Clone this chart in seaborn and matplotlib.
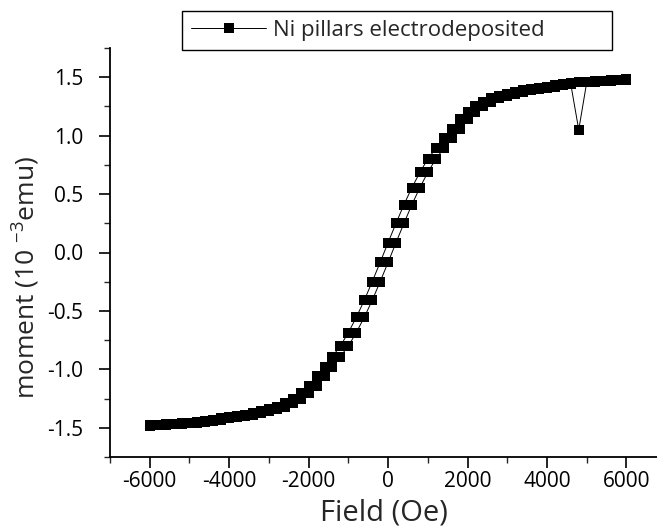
import pandas as pd
import matplotlib.pyplot as plt
import seaborn as sns

# field sweeps (Oe) and measured moment (10^-3 emu)
field_down = [6000, 5800, 5600, 5400, 5200, 5000, 4800, 4600, 4400, 4200,
              4000, 3800, 3600, 3400, 3200, 3000, 2800, 2600, 2400, 2200,
              2000, 1800, 1600, 1400, 1200, 1000, 800, 600, 400, 200,
              0, -200, -400, -600, -800, -1000, -1200, -1400, -1600, -1800,
              -2000, -2200, -2400, -2600, -2800, -3000, -3200, -3400, -3600, -3800,
              -4000, -4200, -4400, -4600, -4800, -5000, -5200, -5400, -5600, -5800,
              -6000]
moment_down = [1.485, 1.48, 1.475, 1.47, 1.465, 1.46, 1.455, 1.45, 1.44, 1.43,
               1.42, 1.41, 1.40, 1.39, 1.375, 1.36, 1.34, 1.32, 1.29, 1.25,
               1.20, 1.14, 1.06, 0.98, 0.89, 0.80, 0.685, 0.555, 0.41, 0.25,
               0.085, -0.085, -0.25, -0.41, -0.555, -0.685, -0.80, -0.89, -0.98, -1.06,
               -1.14, -1.20, -1.25, -1.29, -1.32, -1.34, -1.36, -1.375, -1.39, -1.40,
               -1.41, -1.42, -1.43, -1.44, -1.45, -1.455, -1.46, -1.465, -1.47, -1.475,
               -1.48]

field_up = [-6000, -5800, -5600, -5400, -5200, -5000, -4800, -4600, -4400, -4200,
            -4000, -3800, -3600, -3400, -3200, -3000, -2800, -2600, -2400, -2200,
            -2000, -1800, -1600, -1400, -1200, -1000, -800, -600, -400, -200,
            0, 200, 400, 600, 800, 1000, 1200, 1400, 1600, 1800,
            2000, 2200, 2400, 2600, 2800, 3000, 3200, 3400, 3600, 3800,
            4000, 4200, 4400, 4600, 4800, 5000, 5200, 5400, 5600, 5800,
            6000]
moment_up = [-1.485, -1.48, -1.475, -1.47, -1.465, -1.46, -1.455, -1.45, -1.44, -1.43,
             -1.42, -1.41, -1.40, -1.39, -1.375, -1.36, -1.34, -1.32, -1.29, -1.25,
             -1.20, -1.14, -1.06, -0.98, -0.89, -0.80, -0.685, -0.555, -0.41, -0.25,
             -0.085, 0.085, 0.25, 0.41, 0.555, 0.685, 0.80, 0.89, 0.98, 1.06,
             1.14, 1.20, 1.25, 1.29, 1.32, 1.34, 1.36, 1.375, 1.39, 1.40,
             1.41, 1.42, 1.43, 1.44, 1.05, 1.455, 1.46, 1.465, 1.47, 1.475,
             1.48]

df = pd.DataFrame({"field": field_down + field_up,
                   "moment": moment_down + moment_up})

sns.set_theme(style="ticks")
plt.rcParams["font.family"] = ["Open Sans", "DejaVu Sans"]
plt.rcParams["mathtext.default"] = "regular"
plt.rcParams["axes.unicode_minus"] = False

fig = plt.figure(figsize=(6.57, 5.31), dpi=100)
ax = fig.add_axes([110 / 657, 1 - 457 / 531, 547 / 657, 409 / 531])

sns.lineplot(data=df, x="field", y="moment", sort=False, estimator=None,
             color="black", linewidth=0.7, marker="s", markersize=7,
             markeredgewidth=0, label="Ni pillars electrodeposited",
             legend=False, ax=ax)

ax.set_xlim(-7000, 6770)
ax.set_ylim(-1.75, 1.75)
ax.set_xticks([-6000, -4000, -2000, 0, 2000, 4000, 6000])
ax.set_xticks([-7000, -5000, -3000, -1000, 1000, 3000, 5000], minor=True)
ax.set_yticks([-1.5, -1.0, -0.5, 0.0, 0.5, 1.0, 1.5])
ax.set_yticks([-1.75, -1.25, -0.75, -0.25, 0.25, 0.75, 1.25, 1.75], minor=True)
ax.set_yticklabels(["-1.5", "-1.0", "-0.5", "0.0", "0.5", "1.0", "1.5"])

for side in ["top", "right"]:
    ax.spines[side].set_visible(False)
for side in ["left", "bottom"]:
    ax.spines[side].set_linewidth(1.3)
    ax.spines[side].set_color("black")

ax.tick_params(axis="both", which="major", direction="out", length=8,
               width=1.2, labelsize=15, colors="black")
ax.tick_params(axis="both", which="minor", direction="out", length=4, width=1.0)
ax.tick_params(axis="x", which="major", pad=2)
ax.tick_params(axis="y", which="major", pad=11)

ax.set_xlabel("Field (Oe)", fontsize=21, labelpad=5)
ax.set_ylabel("moment (10 $^{-3}$emu)", fontsize=19)
ax.yaxis.set_label_coords(-0.124, 0.438)

handles, labels = ax.get_legend_handles_labels()
fig.legend(handles, labels, loc="upper left",
           bbox_to_anchor=(182 / 657, 1 - 50 / 531, 430 / 657, 39 / 531),
           mode="expand", fancybox=False, frameon=True, edgecolor="black",
           framealpha=1, fontsize=16, handlelength=3.4, handletextpad=0.3,
           borderpad=0.4, borderaxespad=0, numpoints=1)
fig.legends[0].get_frame().set_linewidth(1.0)

plt.savefig("out.png", dpi=100)
